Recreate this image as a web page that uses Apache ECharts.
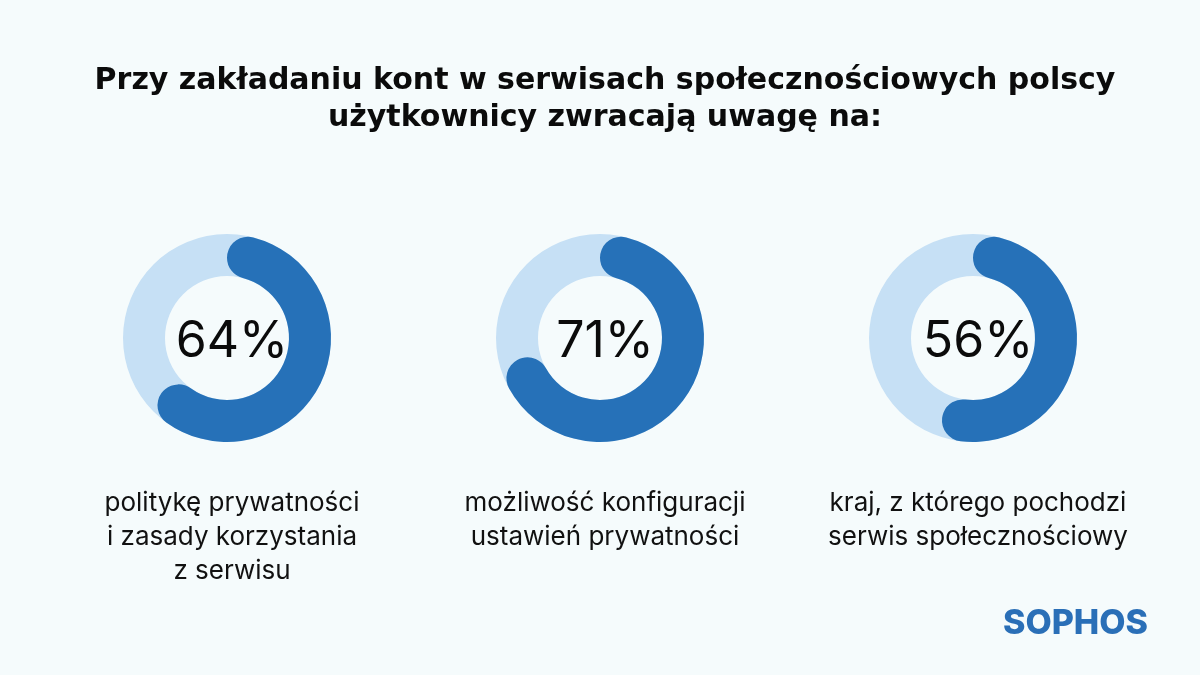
<!DOCTYPE html>
<html>
<head>
<meta charset="utf-8">
<script src="https://cdn.jsdelivr.net/npm/echarts@6/dist/echarts.min.js"></script>
<style>
html, body { margin: 0; padding: 0; background: #f5fbfc; }
#main { width: 1200px; height: 675px; }
</style>
</head>
<body>
<div id="main"></div>
<script>
var myChart = echarts.init(document.getElementById('main'));

// dane
var percents = [64, 71, 56];
var captions = [
    'politykę prywatności\ni zasady korzystania\nz serwisu',
    'możliwość konfiguracji\nustawień prywatności',
    'kraj, z którego pochodzi\nserwis społecznościowy'
];
var titleText = 'Przy zakładaniu kont w serwisach społecznościowych polscy\nużytkownicy zwracają uwagę na:';

var centersX = [227, 600, 973];
var centerY = 338;
var dark = '#2671b8';
var light = '#c6e0f5';

var series = [];
var titles = [{
    text: titleText,
    left: 600,
    top: 58,
    textAlign: 'center',
    textStyle: {
        fontFamily: 'DejaVu Sans',
        fontWeight: 700,
        fontSize: 30,
        lineHeight: 37,
        color: '#0b0b0b'
    }
}];

percents.forEach(function (p, i) {
    // jasne tło pierścienia
    series.push({
        type: 'pie',
        silent: true,
        center: [centersX[i], centerY],
        radius: [62, 104],
        startAngle: 90,
        label: { show: false },
        labelLine: { show: false },
        itemStyle: { color: light },
        data: [{ value: 100 }]
    });
    // łuk z wartością
    series.push({
        type: 'pie',
        silent: true,
        center: [centersX[i], centerY],
        radius: [62, 104],
        startAngle: 90,
        clockwise: true,
        label: { show: false },
        labelLine: { show: false },
        itemStyle: { borderRadius: 21 },
        data: [
            { value: p, itemStyle: { color: dark } },
            { value: 100 - p, itemStyle: { color: 'rgba(0,0,0,0)' } }
        ]
    });
    titles.push({
        text: p + '%',
        left: centersX[i],
        top: centerY - 26,
        textAlign: 'center',
        textStyle: {
            fontFamily: 'Inter',
            fontWeight: 400,
            fontSize: 50,
            color: '#0b0b0b'
        }
    });
    titles.push({
        text: captions[i],
        left: centersX[i],
        top: 481,
        textAlign: 'center',
        textStyle: {
            fontFamily: 'Inter',
            fontWeight: 400,
            fontSize: 26,
            lineHeight: 34,
            color: '#111'
        }
    });
});

titles.push({
    text: 'SOPHOS',
    left: 1143,
    top: 602,
    textAlign: 'right',
    textStyle: {
        fontFamily: 'Inter',
        fontWeight: 800,
        fontSize: 34,
        color: '#2a6fb7'
    }
});

myChart.setOption({
    backgroundColor: '#f5fbfc',
    animation: false,
    title: titles,
    series: series
});
</script>
</body>
</html>
